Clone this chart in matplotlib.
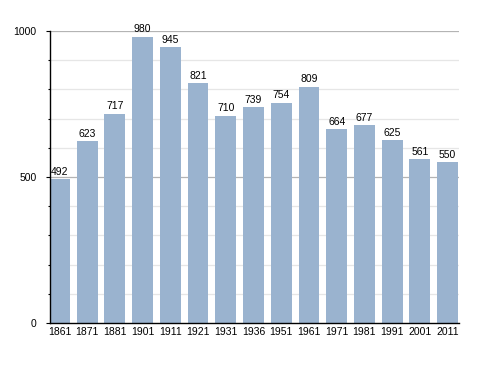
import matplotlib
matplotlib.use('Agg')
import matplotlib.pyplot as plt
from matplotlib.ticker import MultipleLocator

plt.rcParams['font.family'] = ['Liberation Sans', 'DejaVu Sans']

years = ['1861', '1871', '1881', '1901', '1911', '1921', '1931', '1936',
         '1951', '1961', '1971', '1981', '1991', '2001', '2011']
population = [492, 623, 717, 980, 945, 821, 710, 739, 754, 809, 664, 677, 625, 561, 550]

fig = plt.figure(figsize=(4.88, 3.73), dpi=100)
ax = fig.add_axes([0.1025, 0.134, 0.838, 0.783])

# light grid every 100, darker at 500 and 1000
for y in range(100, 1001, 100):
    col = '#b4b4b4' if y % 500 == 0 else '#e6e6e6'
    ax.axhline(y, color=col, lw=0.9, zorder=0)

x = list(range(len(years)))
ax.bar(x, population, width=0.75, color='#9ab3cf', zorder=2)
for xi, v in zip(x, population):
    ax.text(xi, v + 8, str(v), ha='center', va='bottom', fontsize=7.5, color='black')

ax.set_xlim(-0.34, 14.41)
ax.set_ylim(0, 1000)
ax.set_xticks(x)
ax.set_xticklabels(years, fontsize=7.5)
ax.tick_params(axis='x', length=0, pad=3)
ax.yaxis.set_major_locator(MultipleLocator(500))
ax.yaxis.set_minor_locator(MultipleLocator(100))
ax.tick_params(axis='y', which='major', length=3, width=0.8, labelsize=7.5, pad=6.5)
ax.tick_params(axis='y', which='minor', length=1.5, width=0.8)

ax.spines['top'].set_visible(False)
ax.spines['right'].set_visible(False)
ax.spines['left'].set_linewidth(1.0)
ax.spines['bottom'].set_linewidth(1.0)

plt.savefig('out.png', dpi=100)
plt.close()
